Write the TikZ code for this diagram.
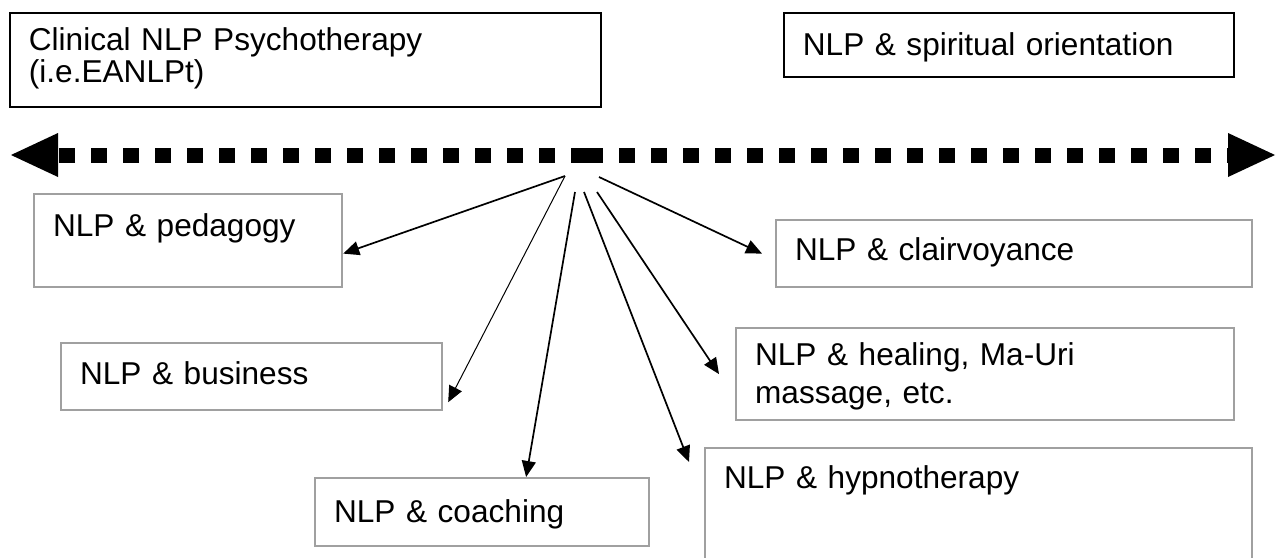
\documentclass[tikz,border=0pt]{standalone}
\usepackage{fontspec}
\setmainfont{Liberation Sans}
\usetikzlibrary{arrows.meta,calc}

\definecolor{boxgrey}{RGB}{160,160,160}

\begin{document}
\begin{tikzpicture}[x=0.5pt, y=-0.5pt,
		every node/.style={align=left, anchor=north west,
				font=\fontsize{15.8}{16}\selectfont,
				inner xsep=9.5pt, inner ysep=0pt},
		boxSize/.style n args={3}{text width=#1, text height=#2, text depth=#3},
		titleBox/.style={draw=black, line width=0.9pt},
		fieldBox/.style={draw=boxgrey, line width=1.1pt},
		axisArrow/.style={line width=7.5pt, dash pattern=on 8pt off 8pt,
				-{Triangle[length=23.5pt, width=22pt, line width=0pt]}},
		spoke/.style={line width=0.85pt, -{Triangle[length=8pt, width=7pt]}}
	]

	\useasboundingbox (0,0) rectangle (1278,557);
	\clip (0,0) rectangle (1278,557);

	% Top boxes
	\node[titleBox, boxSize={276.5pt}{19pt}{28pt}] (clinical) at (9,12)
	{Clinical NLP Psychotherapy\\(i.e.EANLPt)};
	\node[titleBox, boxSize={206pt}{21.5pt}{10.5pt}] (spiritual) at (783,12)
	{NLP \& spiritual orientation};

	% Dotted double arrow
	\coordinate (mid) at (587,155);
	\coordinate (leftEnd) at (11,155);
	\coordinate (rightEnd) at (1275,155);
	\draw[axisArrow] (mid) -- (leftEnd);
	\draw[axisArrow] (mid) -- (rightEnd);

	% Lower boxes
	\node[fieldBox, boxSize={135pt}{21pt}{25.5pt}] (pedagogy) at (33,193) {NLP \& pedagogy};
	\node[fieldBox, boxSize={171.5pt}{20.5pt}{13pt}] (business) at (60,342) {NLP \& business};
	\node[fieldBox, boxSize={148pt}{22pt}{12pt}] (coaching) at (314,477) {NLP \& coaching};
	\node[fieldBox, boxSize={219pt}{20pt}{13.5pt}] (clairvoyance) at (775,219) {NLP \& clairvoyance};
	\node[fieldBox, boxSize={230pt}{18.5pt}{27.5pt}] (healing) at (735,327)
	{NLP \& healing, Ma-Uri\\[3.25pt]massage, etc.};
	\node[fieldBox, boxSize={254.5pt}{20pt}{50pt}] (hypno) at (704,447) {NLP \& hypnotherapy};

	% Spokes
	\coordinate (hubL) at (565,176);
	\coordinate (hubC) at (575,192);
	\coordinate (hubH) at (584,192);
	\coordinate (hubR) at (597,192);
	\coordinate (hubCl) at (599,177);

	\draw[spoke] (hubL) -- ($(pedagogy.east)+(0,13)$);
	\draw[spoke, line width=0.5pt] (hubL) -- ($(business.south east)+(5,-9)$);
	\draw[spoke] (hubC) -- ($(coaching.north)+(44,0)$);
	\draw[spoke] (hubH) -- ($(hypno.north west)+(-15,15)$);
	\draw[spoke] (hubR) -- ($(healing.west)+(-16,0)$);
	\draw[spoke] (hubCl) -- ($(clairvoyance.west)+(-13,0)$);
\end{tikzpicture}
\end{document}
